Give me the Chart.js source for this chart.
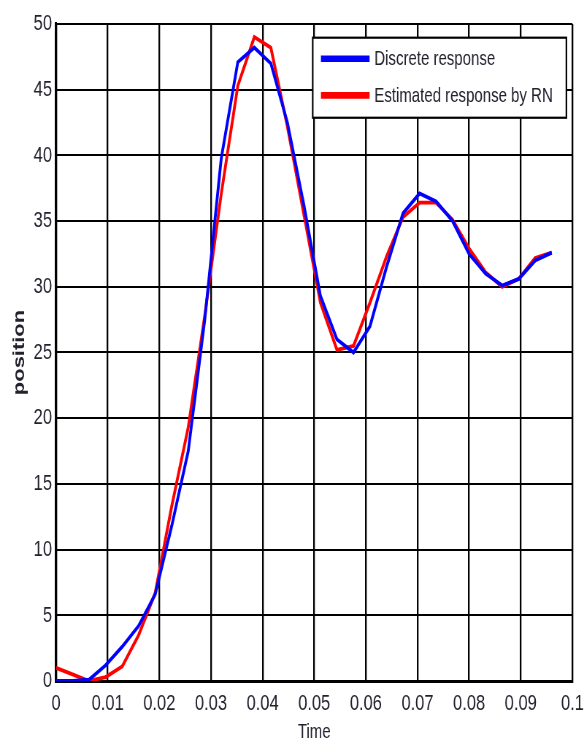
<!DOCTYPE html>
<html>
<head>
<meta charset="utf-8">
<title>position vs Time</title>
<script src="https://cdn.jsdelivr.net/npm/chart.js@4"></script>
<style>
  html, body { margin: 0; padding: 0; background: #fff; }
  #frame { width: 584px; height: 743px; overflow: hidden; position: relative; }
  /* the original figure is stretched vertically, so draw at 584x542 and stretch */
  #wrap { position: absolute; left: 0; top: 0; width: 584px; height: 542px; transform: scaleY(1.3708); transform-origin: 0 0; }
</style>
</head>
<body>
<div id="frame"><div id="wrap"><canvas id="chart" width="584" height="542"></canvas></div></div>
<script>
// === DATA ===
const timeValues = [0, 0.0032, 0.0064, 0.0096, 0.0128, 0.016, 0.0192, 0.0224, 0.0256, 0.0288,
  0.032, 0.0352, 0.0384, 0.0416, 0.0448, 0.048, 0.0512, 0.0544, 0.0576, 0.0608,
  0.064, 0.0672, 0.0704, 0.0736, 0.0768, 0.08, 0.0832, 0.0864, 0.0896, 0.0928, 0.096];
const discreteResponse = [0, 0, 0.1, 1.2, 2.6, 4.2, 6.6, 11.8, 17.5, 27.5,
  39.8, 47.1, 48.2, 47.0, 42.5, 36.2, 29.3, 26.0, 25.0, 27.0,
  31.5, 35.6, 37.1, 36.5, 35.0, 32.5, 31.0, 30.1, 30.6, 32.0, 32.6];
const estimatedResponse = [1.0, 0.5, 0.0, 0.3, 1.1, 3.5, 6.7, 13.3, 19.3, 27.8,
  37.1, 45.3, 49.0, 48.2, 42.2, 35.5, 28.8, 25.2, 25.5, 28.8,
  32.3, 35.3, 36.4, 36.4, 35.1, 32.9, 31.1, 30.0, 30.6, 32.2, 32.6];
const xTicks = [0, 0.01, 0.02, 0.03, 0.04, 0.05, 0.06, 0.07, 0.08, 0.09, 0.1];
const yTicks = [0, 5, 10, 15, 20, 25, 30, 35, 40, 45, 50];
const seriesNames = ["Discrete response", "Estimated response by RN"];

const textColor = "#22222e";
const fontFamily = "'Liberation Sans', Arial, sans-serif";

const toPoints = (ys) => timeValues.map((t, i) => ({ x: t, y: ys[i] }));

// legend in a boxed frame, top right, like the original
const boxLegend = {
  id: "boxLegend",
  afterDraw(chart) {
    const ctx = chart.ctx;
    const x0 = 312.5, y0 = 27.5, x1 = 566, y1 = 85.9;
    ctx.save();
    ctx.fillStyle = "#fff";
    ctx.fillRect(x0, y0, x1 - x0, y1 - y0);
    ctx.strokeStyle = "#000";
    ctx.lineWidth = 1.6;
    ctx.strokeRect(x0, y0, x1 - x0, y1 - y0);
    const rows = [42.8, 69.6];
    ctx.font = "15px " + fontFamily;
    ctx.textBaseline = "middle";
    chart.data.datasets.forEach((ds, i) => {
      ctx.strokeStyle = ds.borderColor;
      ctx.lineWidth = 4.8;
      ctx.beginPath();
      ctx.moveTo(320.7, rows[i]);
      ctx.lineTo(369.3, rows[i]);
      ctx.stroke();
      ctx.fillStyle = textColor;
      ctx.fillText(ds.label, 374, rows[i] + 0.5);
    });
    ctx.restore();
  },
};

new Chart(document.getElementById("chart"), {
  type: "line",
  data: {
    datasets: [
      { label: seriesNames[0], data: toPoints(discreteResponse), borderColor: "#0000ff", borderWidth: 2.8, pointRadius: 0, tension: 0, fill: false },
      { label: seriesNames[1], data: toPoints(estimatedResponse), borderColor: "#ff0000", borderWidth: 2.8, pointRadius: 0, tension: 0, fill: false },
    ],
  },
  options: {
    responsive: false,
    animation: false,
    devicePixelRatio: 1.3708,
    layout: { padding: { top: 17.5, right: 12, bottom: 0, left: 0 } },
    plugins: { legend: { display: false }, tooltip: { enabled: false } },
    scales: {
      x: {
        type: "linear",
        min: 0,
        max: 0.1,
        afterBuildTicks: (s) => { s.ticks = xTicks.map((v) => ({ value: v })); },
        afterFit: (s) => { s.height = 45.2; s.paddingLeft = 0; s.paddingRight = 0; },
        grid: { color: "#000", lineWidth: 1.7, drawTicks: false },
        border: { color: "#000", width: 2.2 },
        ticks: {
          color: textColor,
          padding: 7,
          maxRotation: 0,
          autoSkip: false,
          font: { family: fontFamily, size: 16.5 },
          callback: (v) => String(+Number(v).toFixed(2)),
        },
        title: {
          display: true,
          text: "Time",
          color: textColor,
          font: { family: fontFamily, size: 15, lineHeight: 1 },
          padding: { top: 0, bottom: 0 },
        },
      },
      y: {
        min: 0,
        max: 50,
        afterBuildTicks: (s) => { s.ticks = yTicks.map((v) => ({ value: v })); },
        afterFit: (s) => { s.width = 56; s.paddingTop = 0; s.paddingBottom = 0; },
        grid: { color: "#000", lineWidth: 1.5, drawTicks: false },
        border: { color: "#000", width: 2.2 },
        ticks: {
          color: textColor,
          padding: 4,
          font: { family: fontFamily, size: 16.5 },
        },
        title: {
          display: true,
          text: "position",
          color: textColor,
          font: { family: fontFamily, size: 16, weight: "bold", lineHeight: 1.2 },
          padding: { top: 10, bottom: 0 },
        },
      },
    },
  },
  plugins: [boxLegend],
});
</script>
</body>
</html>
